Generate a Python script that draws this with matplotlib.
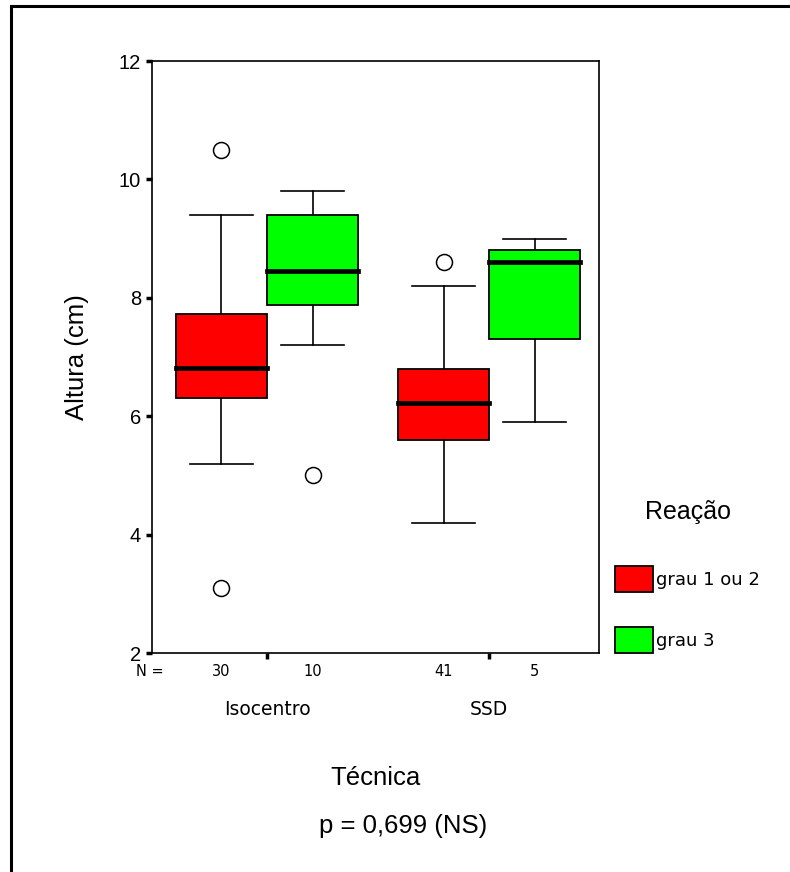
import matplotlib
matplotlib.use("Agg")
import matplotlib.pyplot as plt
from matplotlib.lines import Line2D
from matplotlib.patches import Patch

# data
groups = ["Isocentro", "SSD"]
reacoes = ["grau 1 ou 2", "grau 3"]
n_counts = [[30, 10], [41, 5]]
medians = [[6.82, 8.45], [6.22, 8.6]]
q1 = [[6.3, 7.88], [5.6, 7.3]]
q3 = [[7.72, 9.4], [6.8, 8.8]]
whis_lo = [[5.2, 7.2], [4.2, 5.9]]
whis_hi = [[9.4, 9.8], [8.2, 9.0]]
outliers = [[[10.5, 3.1], [5.0]], [[8.6], []]]
colors = ["#ff0000", "#00ff00"]

offset = 0.205
width = 0.41

stats, positions, faces = [], [], []
for g in range(len(groups)):
    for r in range(len(reacoes)):
        stats.append(dict(med=medians[g][r], q1=q1[g][r], q3=q3[g][r],
                          whislo=whis_lo[g][r], whishi=whis_hi[g][r],
                          fliers=outliers[g][r]))
        positions.append(g + (r - 0.5) * 2 * offset)
        faces.append(colors[r])

fig = plt.figure(figsize=(7.9, 8.72), dpi=100)
ax = fig.add_axes([0.1924, 0.2511, 0.5658, 0.6789])

bp = ax.bxp(stats, positions=positions, widths=width, capwidths=0.28,
            patch_artist=True,
            boxprops=dict(linewidth=1.3, edgecolor="black"),
            whiskerprops=dict(linewidth=1.2, color="black"),
            capprops=dict(linewidth=1.2, color="black"),
            medianprops=dict(linewidth=3.4, color="black",
                             solid_capstyle="projecting"),
            flierprops=dict(marker="o", markersize=11.5, markerfacecolor="white",
                            markeredgecolor="black", markeredgewidth=1.1))
for box, fc in zip(bp["boxes"], faces):
    box.set_facecolor(fc)

ax.set_xlim(-0.518, 1.495)
ax.set_ylim(2, 12)
ax.set_yticks([2, 4, 6, 8, 10, 12])
ax.set_xticks(range(len(groups)))
ax.set_xticklabels(groups, family="DejaVu Sans", fontsize=13.5)
for s in ax.spines.values():
    s.set_linewidth(1.2)
ax.tick_params(axis="y", length=4, width=2.5, pad=4, labelsize=14.5)
ax.tick_params(axis="x", length=4, width=2.5, pad=29.5)
for lab in ax.get_yticklabels():
    lab.set_family("Liberation Sans")

# N = counts under each box
trans = ax.get_xaxis_transform()
ax.text(-0.527, -0.032, "N =", transform=trans, ha="center", va="center",
        fontsize=10.5, family="DejaVu Sans")
i = 0
for g in range(len(groups)):
    for r in range(len(reacoes)):
        ax.text(positions[i], -0.032, str(n_counts[g][r]), transform=trans,
                ha="center", va="center", fontsize=10.5, family="DejaVu Sans")
        i += 1

ax.set_xlabel("Técnica", fontsize=18.5, family="Liberation Sans")
ax.xaxis.set_label_coords(0.5, -0.211)
ax.xaxis.label.set_va("center")
ax.set_ylabel("Altura (cm)", fontsize=18.5, family="Liberation Sans")
ax.yaxis.set_label_coords(-0.1667, 0.5)
ax.yaxis.label.set_va("center")

fig.text(403 / 790, 1 - 826 / 872, "p = 0,699 (NS)", ha="center", va="center",
         fontsize=18.5, family="Liberation Sans")

# legend
fig.text(688 / 790, 1 - 512 / 872, "Reação", ha="center", va="center",
         fontsize=18, family="Liberation Sans")
handles = [Patch(facecolor=c, edgecolor="black", linewidth=1.3) for c in colors]
fig.legend(handles, reacoes, loc="upper left",
           bbox_to_anchor=(615 / 790, 1 - 566 / 872), frameon=False,
           borderaxespad=0, borderpad=0, handlelength=2.1, handleheight=1.85,
           handletextpad=0.15, labelspacing=1.95,
           prop=dict(family="DejaVu Sans", size=13))

# page border (left and top only)
fig.add_artist(Line2D([11 / 790, 11 / 790], [0, 1 - 6 / 872], color="black",
                      linewidth=2.2))
fig.add_artist(Line2D([11 / 790, 1], [1 - 6 / 872, 1 - 6 / 872], color="black",
                      linewidth=2.2))

fig.savefig("out.png", dpi=100)
